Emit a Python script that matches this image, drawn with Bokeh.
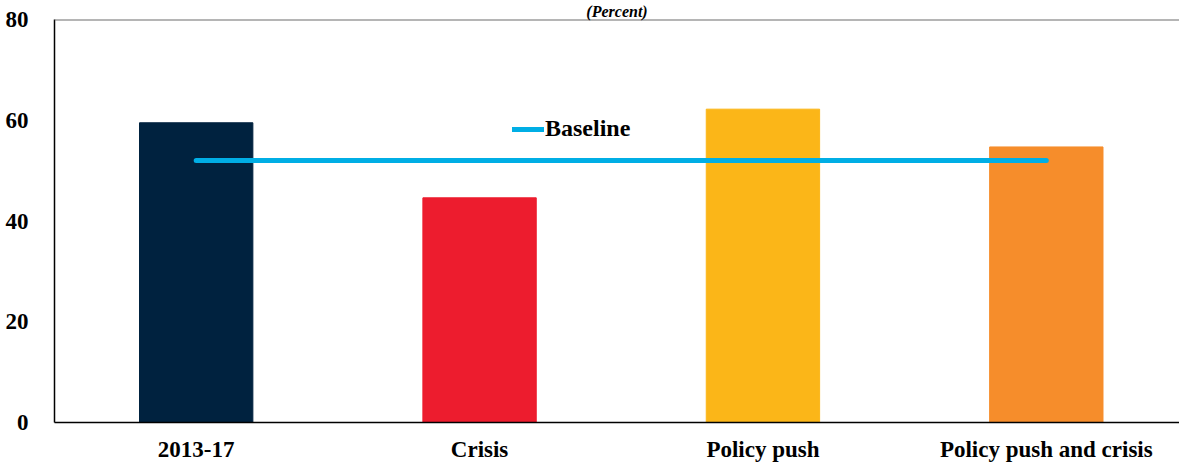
from bokeh.plotting import figure
from bokeh.models import (ColumnDataSource, FixedTicker, Range1d, Span, Legend,
                          LegendItem, Title)
from bokeh.embed import file_html
from bokeh.resources import INLINE

categories = ["2013-17", "Crisis", "Policy push", "Policy push and crisis"]
values = [59.5, 44.6, 62.2, 54.7]
baseline = [52, 52, 52, 52]
colors = ["#00223F", "#ED1C2E", "#FBB618", "#F68D2B"]
y_ticks = [0, 20, 40, 60, 80]

FONT = "Liberation Serif"

xs = list(range(len(categories)))
src = ColumnDataSource(dict(x=xs, top=values, color=colors))

p = figure(width=1179, height=464, output_backend="svg", toolbar_location=None,
           x_range=Range1d(-0.5, 3.47), y_range=Range1d(0, 80),
           min_border_left=54, min_border_right=0, min_border_top=17,
           min_border_bottom=42)
p.outline_line_color = None
p.grid.grid_line_color = None
p.background_fill_color = "white"

p.vbar(x="x", top="top", width=0.4, color="color", source=src)
bl = p.line(x=xs, y=baseline, line_color="#00AEE5", line_width=5, line_cap="round")

p.add_layout(Span(location=80, dimension="width", line_color="#6D6D6D", line_width=2))

p.xaxis.ticker = FixedTicker(ticks=xs)
p.xaxis.major_label_overrides = {i: c for i, c in enumerate(categories)}
p.yaxis.ticker = FixedTicker(ticks=y_ticks)
for ax in (p.xaxis, p.yaxis):
    ax.major_tick_line_color = None
    ax.minor_tick_line_color = None
    ax.axis_line_color = "black"
    ax.axis_line_width = 1.5
    ax.major_label_text_font = FONT
    ax.major_label_text_font_style = "bold"
    ax.major_label_text_font_size = "23px"
    ax.major_label_text_color = "black"
p.xaxis.major_label_standoff = 8
p.yaxis.major_label_standoff = 20

legend = Legend(items=[LegendItem(label="Baseline", renderers=[bl])],
                location=(458, 280), orientation="horizontal",
                padding=0, margin=0, spacing=0, glyph_width=32, glyph_height=20,
                label_standoff=1, border_line_color=None,
                background_fill_alpha=0,
                label_text_font=FONT, label_text_font_style="bold",
                label_text_font_size="24px", label_text_color="black")
p.add_layout(legend, "center")

p.title = Title(text="(Percent)", align="center", text_font=FONT,
                text_font_style="bold italic", text_font_size="16px",
                text_color="black", offset=0, standoff=0)

open("out.html", "w").write(file_html(p, INLINE))
